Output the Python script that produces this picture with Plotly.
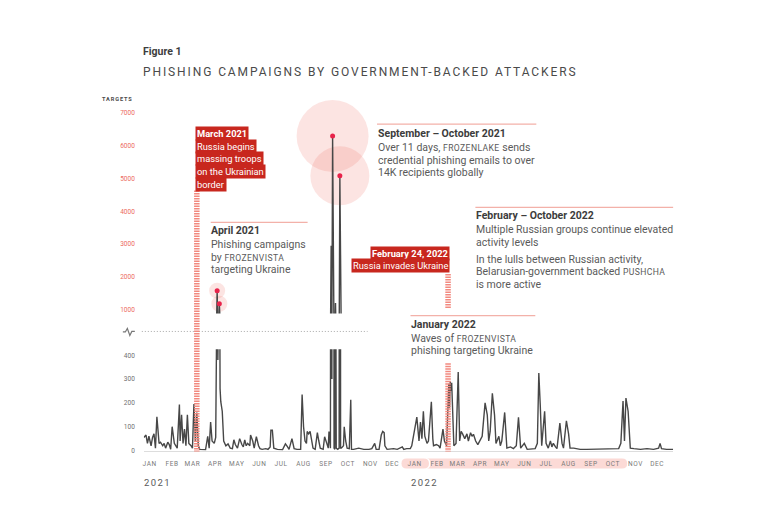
import pandas as pd
import plotly.graph_objects as go

# ---------------- data ----------------
# day offset from 2021-01-01 and number of targets on that day
day = [0, 3, 5, 7, 10, 12, 14, 16, 18, 20, 21, 23, 26, 28, 30, 33, 35, 37, 39, 42, 44, 46, 49, 50,
       52, 54, 56, 58, 60, 62, 65, 67, 69, 71, 73, 75, 77, 81, 85, 88, 90, 92, 94, 97, 99, 100,
       101, 102, 103, 104, 105, 106, 108, 110, 113, 116, 119, 122, 124, 126, 129, 132, 135, 137,
       139, 141, 143, 146, 147, 150, 152, 155, 158, 160, 163, 168, 171, 174, 175, 177, 179, 184,
       191, 195, 198, 200, 204, 207, 211, 216, 218, 220, 222, 224, 225, 227, 229, 231, 233, 236,
       239, 241, 243, 247, 249, 252, 254, 255, 256, 257, 258, 259, 260, 261, 262, 263, 264, 265,
       267, 269, 270, 271, 272, 275, 276, 278, 280, 283, 285, 286, 289, 296, 303, 310, 314, 318,
       320, 324, 327, 329, 331, 332, 335, 344, 349, 356, 358, 362, 367, 369, 374, 376, 379, 381,
       383, 385, 387, 390, 392, 396, 398, 399, 403, 406, 408, 412, 414, 417, 420, 421, 422, 423,
       424, 427, 430, 433, 435, 437, 439, 442, 445, 447, 450, 452, 454, 457, 460, 463, 466, 470,
       473, 475, 477, 480, 483, 485, 489, 491, 493, 497, 500, 505, 509, 513, 516, 519, 524, 528,
       535, 539, 542, 544, 546, 548, 552, 554, 557, 560, 562, 564, 567, 569, 573, 576, 578, 582,
       585, 587, 592, 601, 610, 619, 629, 638, 647, 654, 657, 660, 662, 664, 667, 670, 675, 684,
       693, 702, 709, 711, 713, 720, 729]
targets = [55, 65, 30, 60, 20, 55, 70, 10, 142, 40, 30, 35, 20, 30, 10, 35, 25, 5, 100, 30, 20, 10, 193, 40,
           150, 30, 90, 20, 150, 30, 20, 10, 195, 40, 160, 20, 5, 5, 3, 60, 10, 120, 40, 30, 55, 420,
           1580, 380, 450, 1180, 260, 205, 165, 40, 20, 28, 10, 8, 45, 25, 10, 50, 25, 15,
           45, 20, 30, 20, 65, 40, 10, 58, 20, 8, 5, 8, 5, 15, 85, 85, 10, 5,
           3, 28, 15, 5, 50, 8, 5, 5, 235, 100, 40, 30, 80, 70, 80, 40, 10, 5,
           75, 40, 10, 5, 58, 30, 10, 80, 40, 10, 2950, 300, 6300, 150, 10, 5, 1200, 10,
           5, 10, 5090, 10, 10, 20, 100, 40, 10, 8, 213, 5, 5, 10, 5, 5, 8, 30,
           5, 5, 65, 80, 75, 20, 5, 8, 5, 15, 5, 8, 8, 20, 110, 140, 40, 120,
           50, 165, 60, 30, 40, 205, 50, 20, 25, 20, 10, 90, 40, 20, 280, 180, 290, 250,
           285, 20, 30, 330, 40, 80, 70, 50, 70, 40, 75, 60, 68, 40, 25, 40, 60, 200,
           150, 40, 80, 240, 150, 30, 60, 20, 40, 160, 10, 15, 8, 20, 140, 10, 30, 5,
           5, 8, 30, 325, 190, 20, 165, 30, 10, 40, 15, 30, 15, 8, 115, 30, 10, 125,
           70, 10, 10, 5, 5, 5, 5, 8, 5, 8, 30, 208, 40, 220, 165, 10, 8, 5,
           8, 5, 10, 30, 8, 5, 5]

# highlighted peaks (day offset, targets)
peak_day = [101, 104, 260, 270]
peak_val = [1580, 1180, 6300, 5090]

months = ["JAN", "FEB", "MAR", "APR", "MAY", "JUN", "JUL", "AUG", "SEP", "OCT", "NOV", "DEC"]
years = [2021, 2022]
upper_ticks = [1000, 2000, 3000, 4000, 5000, 6000, 7000]
lower_ticks = [0, 100, 200, 300, 400]

march_2021 = "2021-03-15"
invasion = "2022-02-24"

# ---------------- helpers ----------------
W, H = 770, 513
OX, OY = 8, 8          # page body margin of the html page
def px(x): return (x - OX) / W
def py(y): return 1 - (y - OY) / H

START = pd.Timestamp("2021-01-01")
dates = [START + pd.Timedelta(days=d) for d in day]
peak_dates = [START + pd.Timedelta(days=d) for d in peak_day]
circle_size = [16, 16, 72, 59]

tickvals = [f"{y}-{m:02d}-09" for y in years for m in range(1, 13)]
ticktext = [f'<span style="letter-spacing:0.6px">{mo}</span>' for y in years for mo in months]

FONT = "Roboto, 'Open Sans', sans-serif"
RED = "#c8271e"
SALMON = "#f2897f"
PINKLINE = "#f3b1a9"
HEAD = "#3c3c3c"
TXT = "#5a5a5a"
LINE = "#474747"

fig = go.Figure()

# circles around highlighted peaks (upper panel)
fig.add_trace(go.Scatter(x=peak_dates, y=peak_val, xaxis="x2", yaxis="y2", mode="markers",
                         marker=dict(size=circle_size, color="rgba(238,112,100,0.27)", line=dict(width=0)),
                         cliponaxis=False, hoverinfo="skip"))
# lower panel line
fig.add_trace(go.Scatter(x=dates, y=targets, mode="lines", line=dict(color=LINE, width=1.4),
                         xaxis="x", yaxis="y"))
# upper panel line
fig.add_trace(go.Scatter(x=dates, y=targets, mode="lines", line=dict(color=LINE, width=1.4),
                         xaxis="x2", yaxis="y2"))
# red dots at peaks
fig.add_trace(go.Scatter(x=peak_dates, y=peak_val, xaxis="x2", yaxis="y2", mode="markers",
                         marker=dict(size=5, color="#e8234a"), cliponaxis=False))

XD = [px(143), px(673)]
fig.update_layout(
    width=W, height=H, margin=dict(l=0, r=0, t=0, b=0),
    paper_bgcolor="white", plot_bgcolor="rgba(0,0,0,0)", showlegend=False,
    font=dict(family=FONT, color=TXT),
    xaxis=dict(type="date", domain=XD, range=["2021-01-01", "2022-12-31"], anchor="y",
               tickvals=tickvals, ticktext=ticktext, ticks="", showgrid=False, zeroline=False,
               showline=True, linecolor="#dddddd", linewidth=1,
               tickfont=dict(size=6.5, color="#7a7a7a"), ticklabelstandoff=7, tickangle=0),
    yaxis=dict(domain=[py(454), py(352)], range=[0, 425], anchor="x", tickvals=lower_ticks,
               showgrid=False, zeroline=False, showline=False, ticks="",
               tickfont=dict(size=6.5, color="#707070"), ticklabelstandoff=8),
    xaxis2=dict(type="date", domain=XD, matches="x", anchor="y2", visible=False),
    yaxis2=dict(domain=[py(316), py(100)], range=[879, 7424], anchor="x2", tickvals=upper_ticks,
                showgrid=False, zeroline=False, showline=False, ticks="",
                tickfont=dict(size=6.5, color="#ec6a5e"), ticklabelstandoff=8),
)

anns = []
def T(text, x, y, size=10.5, color=TXT, xanchor="left", bg=None, pad=0):
    d = dict(text=text, x=px(x), y=py(y), xref="paper", yref="paper", xanchor=xanchor,
             yanchor="middle", showarrow=False, align=xanchor,
             font=dict(size=size, color=color, family=FONT), borderpad=pad)
    if bg:
        d["bgcolor"] = bg
    anns.append(d)

def sc(name):
    return f'<span style="font-size:8.6px;letter-spacing:0.4px">{name}</span>'

def hd(text):
    return f'<b><span style="color:{HEAD}">{text}</span></b>'

# headings
T("<b>Figure 1</b>", 141.5, 52, size=10.5, color="#3d3d3d")
T('<span style="letter-spacing:1.9px">PHISHING CAMPAIGNS BY GOVERNMENT-BACKED ATTACKERS</span>',
  141.5, 72, size=12, color="#4a4a4a")
T('<b><span style="letter-spacing:0.9px">TARGETS</span></b>', 133.5, 99.5, size=5.6,
  color="#4a4a4a", xanchor="right")

# year labels
T('<span style="letter-spacing:1.4px">2021</span>', 142.5, 486, size=9.5, color="#5a5a5a")
T('<span style="letter-spacing:1.4px">2022</span>', 410, 486, size=9.5, color="#5a5a5a")

# March 2021 box
for txt, yy in [("<b>March 2021</b>", 134.5), ("Russia begins", 147.3), ("massing troops", 160),
                ("on the Ukrainian", 172.8), ("border", 185.6)]:
    T(txt, 194, yy, size=9.3, color="white", bg=RED, pad=1)

# Feb 24 box
for txt, yy in [("<b>February 24, 2022</b>", 255), ("Russia invades Ukraine", 267.5)]:
    T(txt, 450, yy, size=9.3, color="white", xanchor="right", bg=RED, pad=1)

# April 2021
for txt, yy in [(hd("April 2021"), 232.5), ("Phishing campaigns", 246),
                ("by " + sc("FROZENVISTA"), 259.3), ("targeting Ukraine", 272)]:
    T(txt, 209.5, yy)

# Sep-Oct 2021
for txt, yy in [(hd("September – October 2021"), 134),
                ("Over 11 days, " + sc("FROZENLAKE") + " sends", 148.5),
                ("credential phishing emails to over", 161.3), ("14K recipients globally", 174)]:
    T(txt, 376.5, yy)

# Feb-Oct 2022
for txt, yy in [(hd("February – October 2022"), 217.5),
                ("Multiple Russian groups continue elevated", 231.7), ("activity levels", 244),
                ("In the lulls between Russian activity,", 261.2),
                ("Belarusian-government backed " + sc("PUSHCHA"), 274), ("is more active", 286.7)]:
    T(txt, 474.5, yy)

# January 2022
for txt, yy in [(hd("January 2022"), 327), ("Waves of " + sc("FROZENVISTA"), 340.7),
                ("phishing targeting Ukraine", 353.3)]:
    T(txt, 409.5, yy)

fig.update_layout(annotations=anns)

shapes = []
def hline(x0, x1, y, color=PINKLINE, width=1.2, dash=None):
    shapes.append(dict(type="line", xref="paper", yref="paper", x0=px(x0), x1=px(x1), y0=py(y), y1=py(y),
                       line=dict(color=color, width=width, dash=dash)))

hline(210, 307, 224)
hline(376.5, 536, 125)
hline(475, 673, 209)
hline(410, 535, 318)
# broken axis dotted line
hline(141, 367, 334, color="#a8a8a8", width=1, dash="1px,2px")

# striped event markers
def stripe(date, y0, y1):
    shapes.append(dict(type="line", xref="x", yref="paper", x0=date, x1=date, y0=py(y0), y1=py(y1),
                       line=dict(color=SALMON, width=5.5, dash="1.5px,1px")))
stripe(march_2021, 192, 455)
stripe(invasion, 276, 311)
stripe(invasion, 366, 455)

# broken-axis icon
pts = [(122, 334.5), (124.5, 334.5), (126.5, 331), (129, 338), (131, 334), (134, 334)]
path = "M " + " L ".join(f"{px(a):.5f},{py(b):.5f}" for a, b in pts)
shapes.append(dict(type="path", xref="paper", yref="paper", path=path,
                   line=dict(color="#777777", width=1.2)))

# highlighted month pills
def P(a, b):
    return f"{px(a):.5f},{py(b):.5f}"
top, mid, bot = 462, 467, 472
jan = (f"M {P(406, top)} L {P(423.5, top)} Q {P(428.5, top)} {P(428.5, mid)} Q {P(428.5, bot)} {P(423.5, bot)} "
       f"L {P(406, bot)} Q {P(401, bot)} {P(401, mid)} Q {P(401, top)} {P(406, top)} Z")
feb = (f"M {P(426, top)} L {P(622, top)} Q {P(627, top)} {P(627, mid)} Q {P(627, bot)} {P(622, bot)} "
       f"L {P(426, bot)} Q {P(430, bot)} {P(430, mid)} Q {P(430, top)} {P(426, top)} Z")
for pth in (jan, feb):
    shapes.append(dict(type="path", xref="paper", yref="paper", path=pth, layer="below",
                       fillcolor="#fcdad6", line=dict(width=0)))

fig.update_layout(shapes=shapes)
fig.write_html("out.html")
